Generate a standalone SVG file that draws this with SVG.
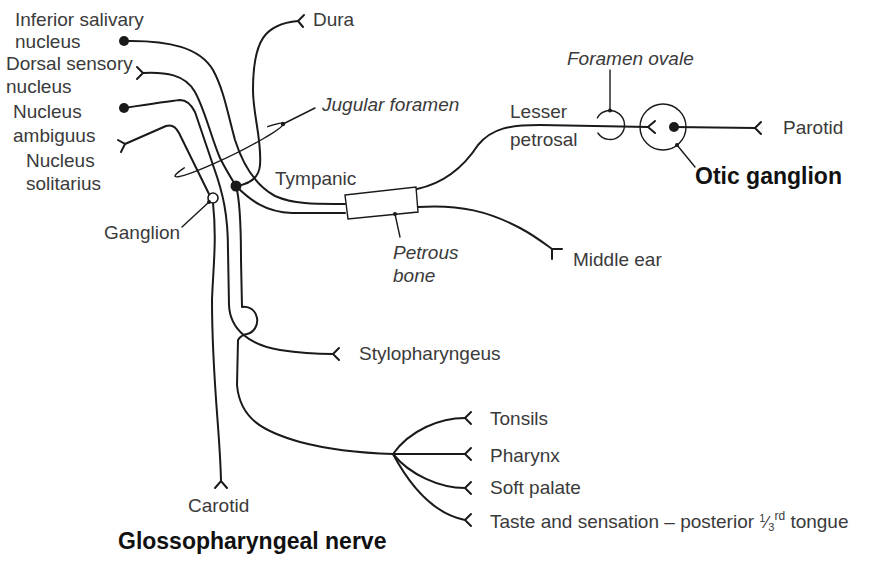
<svg xmlns="http://www.w3.org/2000/svg" width="871" height="561" viewBox="0 0 871 561">
<style>
.nerve{fill:none;stroke:#1a1a1a;stroke-width:2;stroke-linecap:round;stroke-linejoin:round}
.thin{fill:none;stroke:#1a1a1a;stroke-width:1.4;stroke-linecap:round}
.fork{fill:none;stroke:#1a1a1a;stroke-width:2;stroke-linecap:round;stroke-linejoin:miter}
.lbl{font-family:"Liberation Sans",Arial,sans-serif;font-size:19px;fill:#3a3a3a}
.it{font-style:italic}
.ttl{font-family:"Liberation Sans",Arial,sans-serif;font-size:23px;font-weight:bold;fill:#111}
.big{fill:#1a1a1a}
.small{fill:#1a1a1a}
</style>
<rect width="871" height="561" fill="#fff"/>

<g id="connectors">
  <!-- Inferior salivary -> tympanic (upper) -->
  <path class="nerve" d="M124,41 C170,40 200,48 213,70 C224,90 228,115 235,140 C243,165 255,185 275,196 C295,205 320,204 345,204"/>
  <!-- Dorsal sensory -> tympanic dot -->
  <path class="nerve" d="M143,73 C165,72 185,74 195,92 C205,110 212,140 220,158 C226,170 231,178 236,186"/>
  <!-- Nucleus ambiguus -> stylopharyngeus -->
  <path class="nerve" d="M124,108 C150,104 170,101 180,100 C187,100 191,104 195,112 L214,168 C223,193 228,215 228,250 L229,305 C230,330 250,345 280,350 C300,353 320,354 333,354"/>
  <!-- Nucleus solitarius -> ganglion -->
  <path class="nerve" d="M125,144 L166,126 C172,124 176,127 179,133 L209,194"/>
  <!-- Carotid -->
  <path class="nerve" d="M213,203 C217,240 213,270 212,300 C212,380 220,430 221,481"/>
  <!-- Tympanic lower -> box -->
  <path class="nerve" d="M236,186 C250,200 265,212 292,213 L345,213"/>
  <!-- Dura loop -->
  <path class="nerve" d="M236,186 C250,184 259,178 260,165 C262,140 253,115 253,90 C253,40 265,24 298,21"/>
  <!-- Trunk -->
  <path class="nerve" d="M236,186 C240,200 241,230 241,260 L242,307 A12,13 0 0 1 247,334 Q241,335 238,340 L237,385 C240,420 265,432 300,442 C330,450 360,453 393,454"/>
  <!-- Branches -->
  <path class="nerve" d="M393,454 C410,430 440,418 465,418"/>
  <path class="nerve" d="M393,454 L465,454"/>
  <path class="nerve" d="M393,454 C410,475 440,488 465,488"/>
  <path class="nerve" d="M393,454 C415,495 440,515 465,520"/>
  <!-- Lesser petrosal -->
  <path class="nerve" d="M417,189 C445,183 465,165 478,145 C492,128 510,125 540,125 L648,127"/>
  <!-- Middle ear -->
  <path class="nerve" d="M418,207 C460,204 490,212 520,228 C535,236 545,244 552,249"/>
  <!-- Parotid -->
  <path class="nerve" d="M674,127 L755,128"/>

  <!-- Forks -->
  <path class="fork" d="M137,67 L143,73 L137,79"/>
  <path class="fork" d="M118,140 L125,144 L121,152"/>
  <path class="fork" d="M304,15 L298,21 L303,27"/>
  <path class="fork" d="M215,488 L221,481 L227,488"/>
  <path class="fork" d="M339,348 L333,354 L339,360"/>
  <path class="fork" d="M562,249 L552,249 L552,259"/>
  <path class="fork" d="M471,412 L465,418 L471,424"/>
  <path class="fork" d="M471,448 L465,454 L471,460"/>
  <path class="fork" d="M471,482 L465,488 L471,494"/>
  <path class="fork" d="M471,514 L465,520 L471,526"/>
  <path class="fork" d="M655,121 L648,127 L655,133"/>
  <path class="fork" d="M761,122 L755,128 L761,134"/>

  <!-- Leaders -->
  <path class="thin" d="M283,124 L315,108"/>
  <path class="thin" d="M395,214 L400,237"/>
  <path class="thin" d="M209,202 L182,227"/>
  <path class="thin" d="M610,110 L610,70"/>
  <path class="thin" d="M677,145 L695,167"/>
</g>

<g id="jugular-foramen">
  <g transform="translate(229,150) rotate(-26)">
    <path class="thin" d="M-48,-3.6 A60,6 0 1 0 60,0 A60,6 0 0 0 45,-3.97"/>
  </g>
  <circle class="small" cx="283" cy="124" r="2.2"/>
  <text class="lbl it" x="322" y="111">Jugular foramen</text>
</g>

<g id="inferior-salivary">
  <circle class="big" cx="124" cy="41" r="5"/>
  <text class="lbl" x="15" y="26">Inferior salivary</text>
  <text class="lbl" x="15" y="48">nucleus</text>
</g>
<g id="dorsal-sensory">
  <text class="lbl" x="6" y="70">Dorsal sensory</text>
  <text class="lbl" x="6" y="93">nucleus</text>
</g>
<g id="nucleus-ambiguus">
  <circle class="big" cx="124" cy="108" r="5"/>
  <text class="lbl" x="13" y="118">Nucleus</text>
  <text class="lbl" x="13" y="142">ambiguus</text>
</g>
<g id="nucleus-solitarius">
  <text class="lbl" x="26" y="167">Nucleus</text>
  <text class="lbl" x="26" y="190">solitarius</text>
</g>
<g id="ganglion">
  <circle cx="213" cy="198" r="5" fill="#fff" stroke="#1a1a1a" stroke-width="1.6"/>
  <circle class="small" cx="209" cy="202" r="2"/>
  <text class="lbl" x="104" y="239">Ganglion</text>
</g>
<g id="tympanic">
  <circle class="big" cx="236" cy="186" r="5.5"/>
  <text class="lbl" x="275" y="185">Tympanic</text>
</g>
<g id="dura">
  <text class="lbl" x="313" y="26">Dura</text>
</g>
<g id="petrous-bone">
  <polygon points="345,195 416,187 418,212 348,219" fill="#fff" stroke="#1a1a1a" stroke-width="1.4"/>
  <circle class="small" cx="395" cy="214" r="2"/>
  <text class="lbl it" x="393" y="259">Petrous</text>
  <text class="lbl it" x="393" y="282">bone</text>
</g>
<g id="lesser-petrosal">
  <text class="lbl" x="510" y="118">Lesser</text>
  <text class="lbl" x="510" y="146">petrosal</text>
</g>
<g id="foramen-ovale">
  <path class="thin" d="M597.3,118 A14.5,14.5 0 1 1 597.9,133"/>
  <circle class="small" cx="610" cy="110.5" r="2"/>
  <text class="lbl it" x="567" y="65">Foramen ovale</text>
</g>
<g id="otic-ganglion">
  <circle cx="663" cy="127" r="23" fill="none" stroke="#1a1a1a" stroke-width="1.4"/>
  <circle class="big" cx="674" cy="127" r="5"/>
  <circle class="small" cx="677" cy="145" r="2"/>
  <text class="ttl" x="695" y="184">Otic ganglion</text>
</g>
<g id="parotid">
  <text class="lbl" x="783" y="134">Parotid</text>
</g>
<g id="middle-ear">
  <text class="lbl" x="573" y="266">Middle ear</text>
</g>
<g id="stylopharyngeus">
  <text class="lbl" x="359" y="360">Stylopharyngeus</text>
</g>
<g id="carotid">
  <text class="lbl" x="188" y="512">Carotid</text>
</g>
<g id="tonsils"><text class="lbl" x="490" y="425">Tonsils</text></g>
<g id="pharynx"><text class="lbl" x="490" y="462">Pharynx</text></g>
<g id="soft-palate"><text class="lbl" x="490" y="494">Soft palate</text></g>
<g id="taste">
  <text class="lbl" x="490" y="528">Taste and sensation – posterior <tspan font-size="11" dy="-6">1</tspan><tspan dy="6" font-size="17">⁄</tspan><tspan font-size="11" dy="3">3</tspan><tspan font-size="12" dy="-11">rd</tspan><tspan dy="8"> tongue</tspan></text>
</g>
<g id="title">
  <text class="ttl" x="118" y="549">Glossopharyngeal nerve</text>
</g>
</svg>
